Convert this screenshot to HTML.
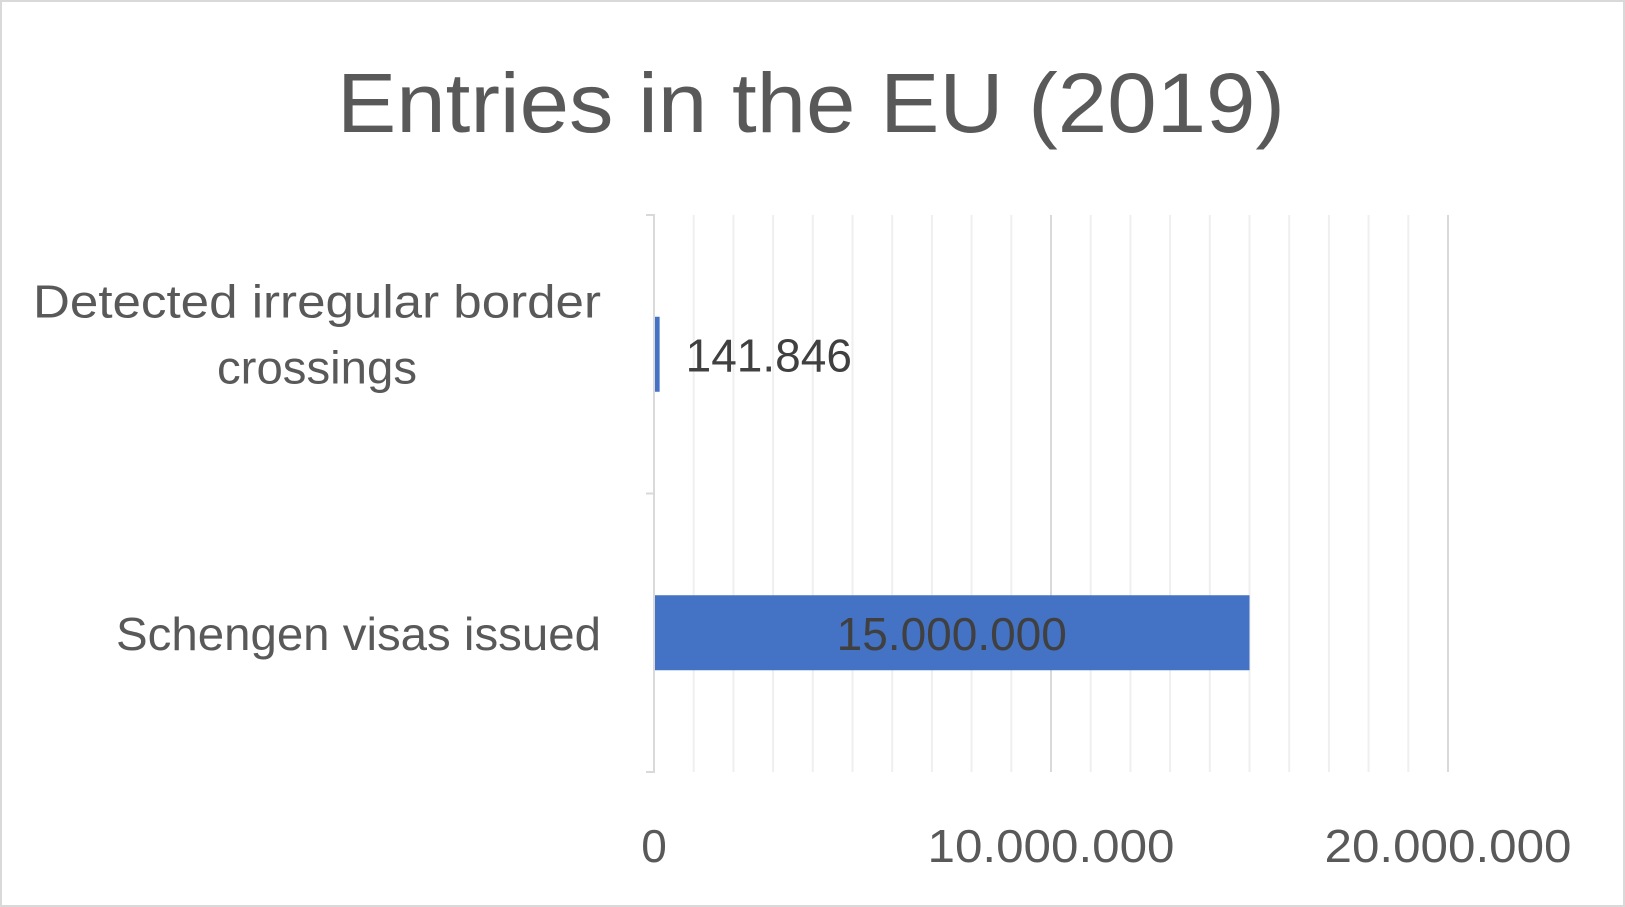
<!DOCTYPE html>
<html><head><meta charset="utf-8"><style>
html,body{margin:0;padding:0;background:#fff;}
svg{display:block;font-family:"Liberation Sans",sans-serif;}
</style></head><body>
<svg id="chart" width="1625" height="907" viewBox="0 0 1625 907">
<rect x="1" y="1" width="1623" height="905" fill="#fff" stroke="#d9d9d9" stroke-width="2"/>
<text x="811" y="132" text-anchor="middle" font-size="84" fill="#595959" textLength="948" lengthAdjust="spacingAndGlyphs">Entries in the EU (2019)</text>
<g id="grid"></g>
<g id="bars"></g>
<g id="labels"></g>
</svg>
<script>
const categories = ["Detected irregular border crossings", "Schengen visas issued"];
const values = [141846, 15000000];
const valueLabels = ["141.846", "15.000.000"];
const tickValues = [0, 10000000, 20000000];
const tickLabels = ["0", "10.000.000", "20.000.000"];

const NS = "http://www.w3.org/2000/svg";
const x0 = 654, pxPer = 397 / 10000000, plotTop = 215, plotBottom = 772;
const xs = v => x0 + v * pxPer;
const band = (plotBottom - plotTop) / categories.length;
const yc = i => plotTop + band * (i + 0.5);
function mk(tag, attrs, parent, text) {
  const e = document.createElementNS(NS, tag);
  for (const k in attrs) e.setAttribute(k, attrs[k]);
  if (text !== undefined) e.textContent = text;
  parent.appendChild(e); return e;
}
const gridG = document.getElementById('grid');
const barsG = document.getElementById('bars');
const labelsG = document.getElementById('labels');
for (let m = 1; m <= 20; m++) {
  const major = m % 10 === 0;
  const l = mk('line', {x1: xs(m * 1000000), x2: xs(m * 1000000), y1: plotTop, y2: plotBottom, stroke: major ? '#d9d9d9' : '#efefef', 'stroke-width': 2}, gridG);
  
  
}
const ax = mk('path', {d: `M${x0-8},${plotTop}H${x0}V${plotBottom}H${x0-8}M${x0-8},${plotTop+band}H${x0}`, stroke: '#d9d9d9', 'stroke-width': 2, fill: 'none'}, gridG);


const barH = 75;
const catLines = [["Detected irregular border", "crossings"], ["Schengen visas issued"]];
categories.forEach((c, i) => {
  const y = yc(i);
  const r = mk('rect', {x: x0 + 1, y: y - barH / 2, width: Math.max(xs(values[i]) - x0 - 1, 3), height: barH, fill: '#4472c4'}, barsG);
  
  
  const inside = xs(values[i]) - x0 > 300;
  const vl = mk('text', {x: inside ? (x0 + xs(values[i])) / 2 : xs(values[i]) + 26, y: y + 17, 'font-size': 46, fill: '#404040', 'text-anchor': inside ? 'middle' : 'start'}, labelsG, valueLabels[i]);
  
  
  const lines = catLines[i];
  lines.forEach((ln, j) => {
    const yy = lines.length === 1 ? y + 17 : y - 37 + j * 66;
    const t = mk('text', {x: lines.length === 1 ? 601 : (j === 0 ? 601 : 317), y: yy, 'font-size': 46, fill: '#595959', 'text-anchor': lines.length === 1 || j === 0 ? 'end' : 'middle'}, labelsG, ln);
    if (ln === "Detected irregular border") { t.setAttribute('textLength', 568); t.setAttribute('lengthAdjust', 'spacingAndGlyphs'); }
    if (ln === "Schengen visas issued") { t.setAttribute('textLength', 485); t.setAttribute('lengthAdjust', 'spacingAndGlyphs'); }
    if (ln === "crossings") { t.setAttribute('textLength', 200); t.setAttribute('lengthAdjust', 'spacingAndGlyphs'); }
    
    
  });
});
tickValues.forEach((v, i) => {
  const t = mk('text', {x: xs(v), y: 862, 'font-size': 46, fill: '#595959', 'text-anchor': 'middle'}, labelsG, tickLabels[i]);
  if (tickLabels[i].length > 3) { t.setAttribute('textLength', 247); t.setAttribute('lengthAdjust', 'spacingAndGlyphs'); }
  
  
});
</script>
</body></html>
